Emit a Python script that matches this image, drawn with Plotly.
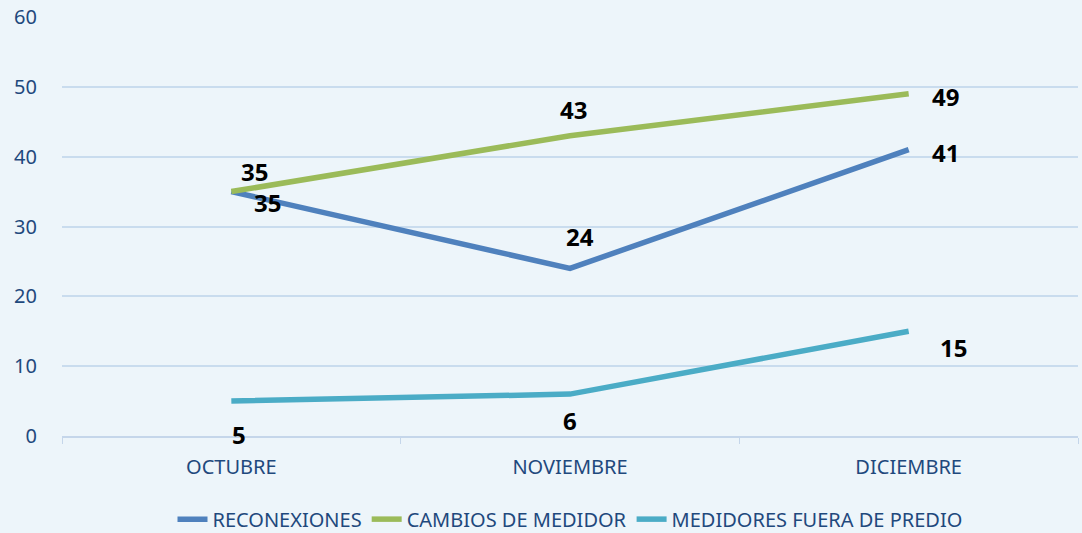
import plotly.graph_objects as go

meses = ["OCTUBRE", "NOVIEMBRE", "DICIEMBRE"]
reconexiones = [35, 24, 41]
cambios_medidor = [35, 43, 49]
fuera_predio = [5, 6, 15]

series = [
    ("RECONEXIONES", reconexiones, "#4F81BD"),
    ("CAMBIOS DE MEDIDOR", cambios_medidor, "#9BBB59"),
    ("MEDIDORES FUERA DE PREDIO", fuera_predio, "#4BACC6"),
]

# label offsets (px) per series, per point
offsets = {
    "RECONEXIONES": [(36, -11), (10, 32), (37, -3)],
    "CAMBIOS DE MEDIDOR": [(23, 20), (3, 26), (37, -3)],
    "MEDIDORES FUERA DE PREDIO": [(8, -33), (0, -26), (45, -16)],
}

font = "Noto Sans, sans-serif"

fig = go.Figure()
for name, vals, color in series:
    fig.add_trace(go.Scatter(
        x=meses, y=vals, mode="lines", name=name,
        line=dict(color=color, width=5.5),
    ))
    for i, v in enumerate(vals):
        dx, dy = offsets[name][i]
        fig.add_annotation(
            x=meses[i], y=v, text=str(v), showarrow=False,
            xshift=dx, yshift=dy,
            font=dict(family="Open Sans, sans-serif", size=24, color="black", weight="bold"),
        )

fig.update_layout(
    width=1082, height=533,
    margin=dict(l=62, r=4, t=17, b=97, autoexpand=False),
    paper_bgcolor="#EDF5FA",
    plot_bgcolor="rgba(0,0,0,0)",
    font=dict(family=font, size=20, color="#1F497D"),
    showlegend=True,
    legend=dict(orientation="h", x=0.5, xanchor="center", y=0.026, yanchor="middle",
                yref="container", font=dict(size=20, color="#1F497D"),
                bgcolor="rgba(0,0,0,0)", tracegroupgap=0),
    xaxis=dict(range=[-0.5, 2.5], showgrid=False, showline=True, linecolor="#C5D6EA",
               linewidth=1.5, ticks="outside", tickson="boundaries", ticklen=6,
               tickcolor="#C5D6EA", ticklabelstandoff=12),
    yaxis=dict(range=[0, 60], dtick=10, showgrid=True, gridcolor="#C9DCEE", gridwidth=1.5,
               zeroline=False, showline=False, ticklabelstandoff=24),
)

# drop the default page margin so the chart fills the window
fig.write_html("out.html", config={"displayModeBar": False},
               post_script="document.body.style.margin='0';")
